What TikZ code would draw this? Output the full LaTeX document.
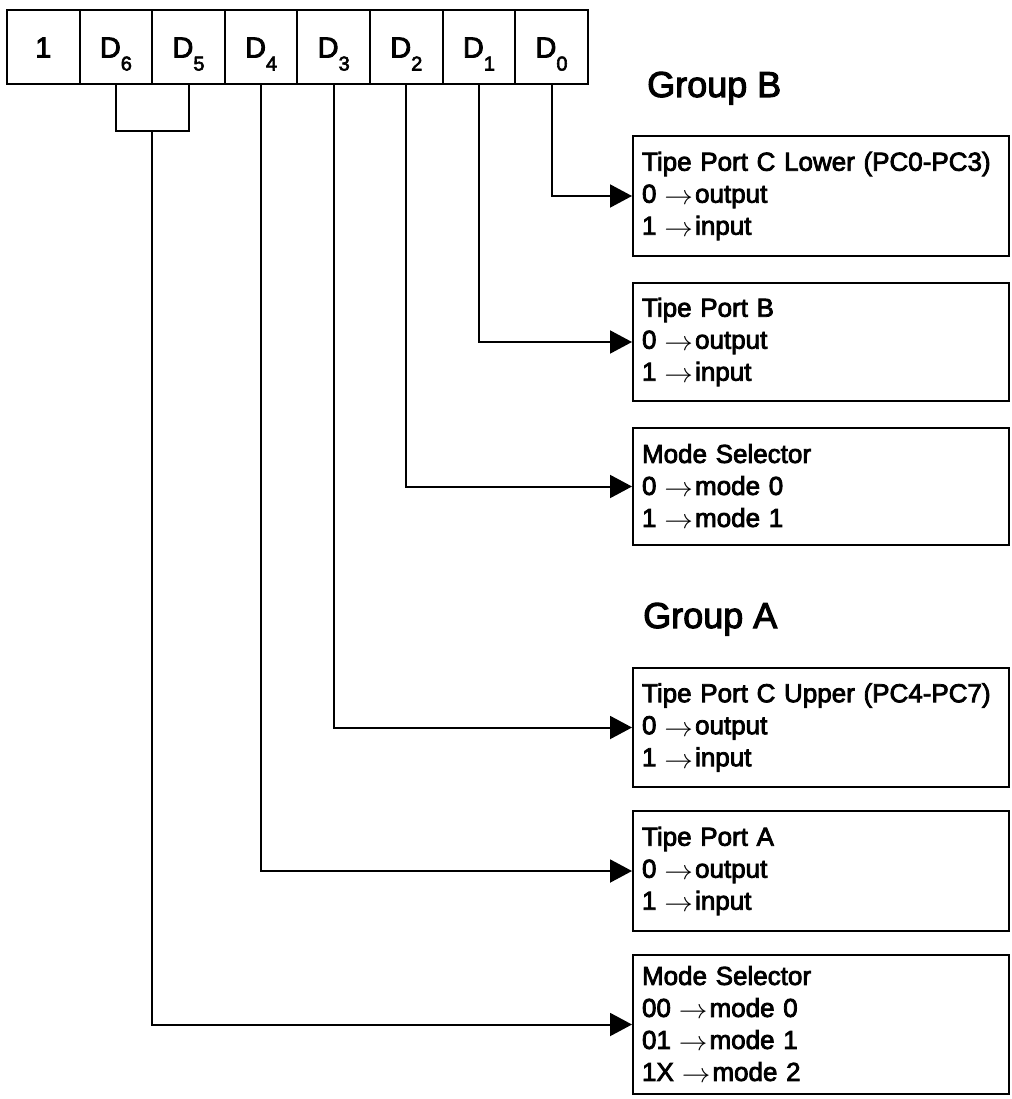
\documentclass[tikz,border=0pt]{standalone}
\usepackage{graphicx}
\usepackage{fontspec}
\setmainfont{Liberation Sans}[FakeBold=3]
\usetikzlibrary{arrows.meta}
\newcommand\Dsub[1]{D\raisebox{-13pt}{\fontsize{20}{20}\selectfont #1}}
\newcommand\tarr{\hspace{8pt}\raisebox{-2pt}{\scalebox{1.15}[1.1]{$\rightarrow$}}\hspace{2pt}}
\begin{document}
\begin{tikzpicture}[x=1pt,y=-1pt,
  cell/.style={draw, line width=2pt, minimum width=72.6pt, minimum height=74pt,
    inner sep=0pt, text height=21pt, text depth=0pt, anchor=north west,
    font=\fontsize{29}{31}\selectfont},
  infobox/.style={draw, line width=2pt, anchor=north west, text width=358pt,
    inner xsep=9pt, inner ysep=0pt, align=left,
    font=\fontsize{26}{32}\selectfont},
  grouplbl/.style={anchor=base west, inner sep=0pt, font=\fontsize{36}{40}\selectfont},
  wire/.style={line width=2pt},
  feed/.style={wire, -{Triangle[length=22pt,width=23pt]}}]
\useasboundingbox (0,0) rectangle (1011,1099);
% register
\node[cell] (b7) at (6,9) {1};
\node[cell] (b6) at (78.6,9) {\Dsub{6}};
\node[cell] (b5) at (151.2,9) {\Dsub{5}};
\node[cell] (b4) at (223.8,9) {\Dsub{4}};
\node[cell] (b3) at (296.4,9) {\Dsub{3}};
\node[cell] (b2) at (369,9) {\Dsub{2}};
\node[cell] (b1) at (441.6,9) {\Dsub{1}};
\node[cell] (b0) at (514.2,9) {\Dsub{0}};
% group labels
\node[grouplbl] (gb) at (647,97) {Group B};
\node[grouplbl] (ga) at (643,628) {Group A};
% boxes
\node[infobox, minimum height=120pt] (pcl) at (632,135)
  {Tipe Port C Lower (PC0-PC3)\\0\tarr output\\1\tarr input};
\node[infobox, minimum height=118pt] (pb) at (632,282)
  {Tipe Port B\\0\tarr output\\1\tarr input};
\node[infobox, minimum height=117pt] (msb) at (632,427)
  {Mode Selector\\0\tarr mode 0\\1\tarr mode 1};
\node[infobox, minimum height=119pt] (pcu) at (632,667)
  {Tipe Port C Upper (PC4-PC7)\\0\tarr output\\1\tarr input};
\node[infobox, minimum height=120pt] (pa) at (632,810)
  {Tipe Port A\\0\tarr output\\1\tarr input};
\node[infobox, minimum height=139pt] (msa) at (632,954)
  {Mode Selector\\00\tarr mode 0\\01\tarr mode 1\\1X\tarr mode 2};
% bracket joining D6 and D5
\draw[wire] (b6.south) -- ++(0,46) coordinate (bl) -| (b5.south);
\path (b6.south) -- (b5.south) coordinate[pos=0.5] (mid);
\coordinate (bm) at (mid |- bl);
% connectors
\draw[feed] (b0.south) |- (pcl.west);
\draw[feed] (b1.south) |- (pb.west);
\draw[feed] (b2.south) |- (msb.west);
\draw[feed] (b3.south) |- (pcu.west);
\draw[feed] (b4.south) |- (pa.west);
\draw[feed] (bm) |- (msa.west);
\end{tikzpicture}
\end{document}
